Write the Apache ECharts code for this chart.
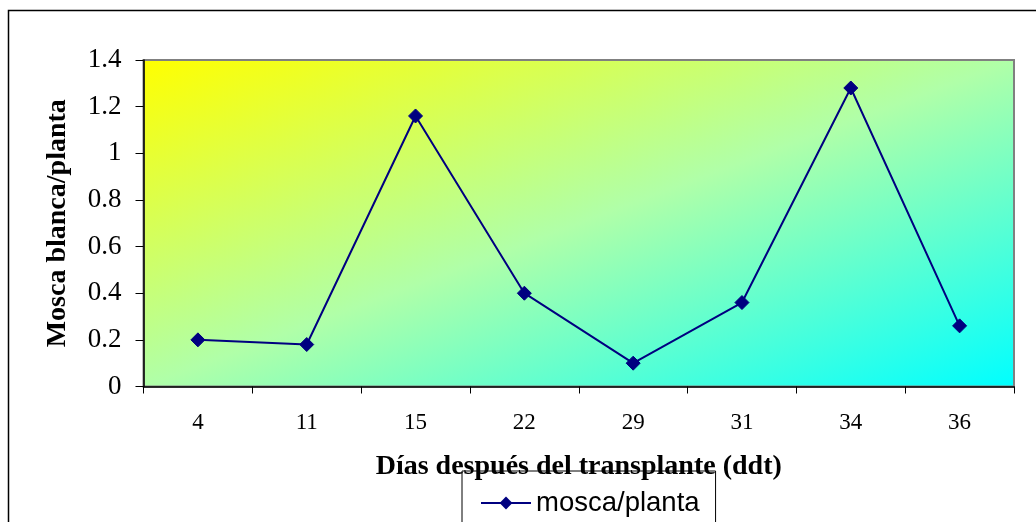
<!DOCTYPE html>
<html>
<head>
<meta charset="utf-8">
<script src="https://cdn.jsdelivr.net/npm/echarts@6/dist/echarts.min.js"></script>
<style>
html,body{margin:0;padding:0;background:#fff;}
#c{width:1036px;height:522px;}
</style>
</head>
<body>
<div id="c"></div>
<script>
const categories = ['4', '11', '15', '22', '29', '31', '34', '36'];
const moscaPlanta = [0.2, 0.18, 1.16, 0.40, 0.10, 0.36, 1.28, 0.26];
const seriesName = 'mosca/planta';
const yTitle = 'Mosca blanca/planta';
const xTitle = 'Días después del transplante (ddt)';

const G = { left: 143.5, top: 60, right: 22, bottom: 135.5 };
const W = 1036 - G.left - G.right, H = 522 - G.top - G.bottom;
const t = 2 / (H / W + W / H);

const chart = echarts.init(document.getElementById('c'));
chart.setOption({
  animation: false,
  backgroundColor: '#ffffff',
  graphic: [{
    type: 'rect',
    shape: { x: 8.5, y: 10.5, width: 1200, height: 700 },
    style: { fill: null, stroke: '#000', lineWidth: 1.5 },
    silent: true, z: -1
  }],
  grid: {
    left: G.left, top: G.top, right: G.right, bottom: G.bottom,
    show: true,
    borderColor: '#808080',
    borderWidth: 2,
    backgroundColor: new echarts.graphic.LinearGradient(
      G.left, G.top, G.left + t * H, G.top + t * W, [
      { offset: 0, color: '#ffff00' },
      { offset: 0.5, color: '#b0ffa8' },
      { offset: 1, color: '#00ffff' }
    ], true)
  },
  legend: {
    data: [seriesName],
    left: 462, top: 471,
    borderColor: '#000', borderWidth: 1,
    padding: [18, 16, 30, 18],
    itemWidth: 50, itemHeight: 16,
    textStyle: { fontFamily: 'Liberation Sans', fontSize: 27.5, color: '#000' }
  },
  xAxis: {
    type: 'category',
    data: categories,
    boundaryGap: true,
    name: xTitle,
    nameLocation: 'middle',
    nameGap: 66,
    nameTextStyle: { fontFamily: 'Liberation Serif', fontWeight: 'bold', fontSize: 28, color: '#000' },
    axisLine: { lineStyle: { color: '#000', width: 1.5 } },
    axisTick: { show: true, alignWithLabel: false, length: 7, lineStyle: { color: '#000' } },
    axisLabel: { margin: 25, fontFamily: 'Liberation Serif', fontSize: 23, color: '#000' },
    splitLine: { show: false }
  },
  yAxis: {
    type: 'value',
    min: 0, max: 1.4, interval: 0.2,
    name: yTitle,
    nameLocation: 'middle',
    nameGap: 71.5,
    nameTextStyle: { fontFamily: 'Liberation Serif', fontWeight: 'bold', fontSize: 28, color: '#000' },
    axisLine: { show: true, lineStyle: { color: '#000', width: 1.5 } },
    axisTick: { show: true, length: 8, lineStyle: { color: '#000' } },
    axisLabel: { margin: 22, fontFamily: 'Liberation Serif', fontSize: 27, color: '#000' },
    splitLine: { show: false }
  },
  series: [{
    name: seriesName,
    type: 'line',
    data: moscaPlanta,
    symbol: 'diamond',
    symbolSize: 14,
    showSymbol: true,
    lineStyle: { color: '#000080', width: 2 },
    itemStyle: { color: '#000080', borderColor: '#000080' }
  }]
});
</script>
</body>
</html>
